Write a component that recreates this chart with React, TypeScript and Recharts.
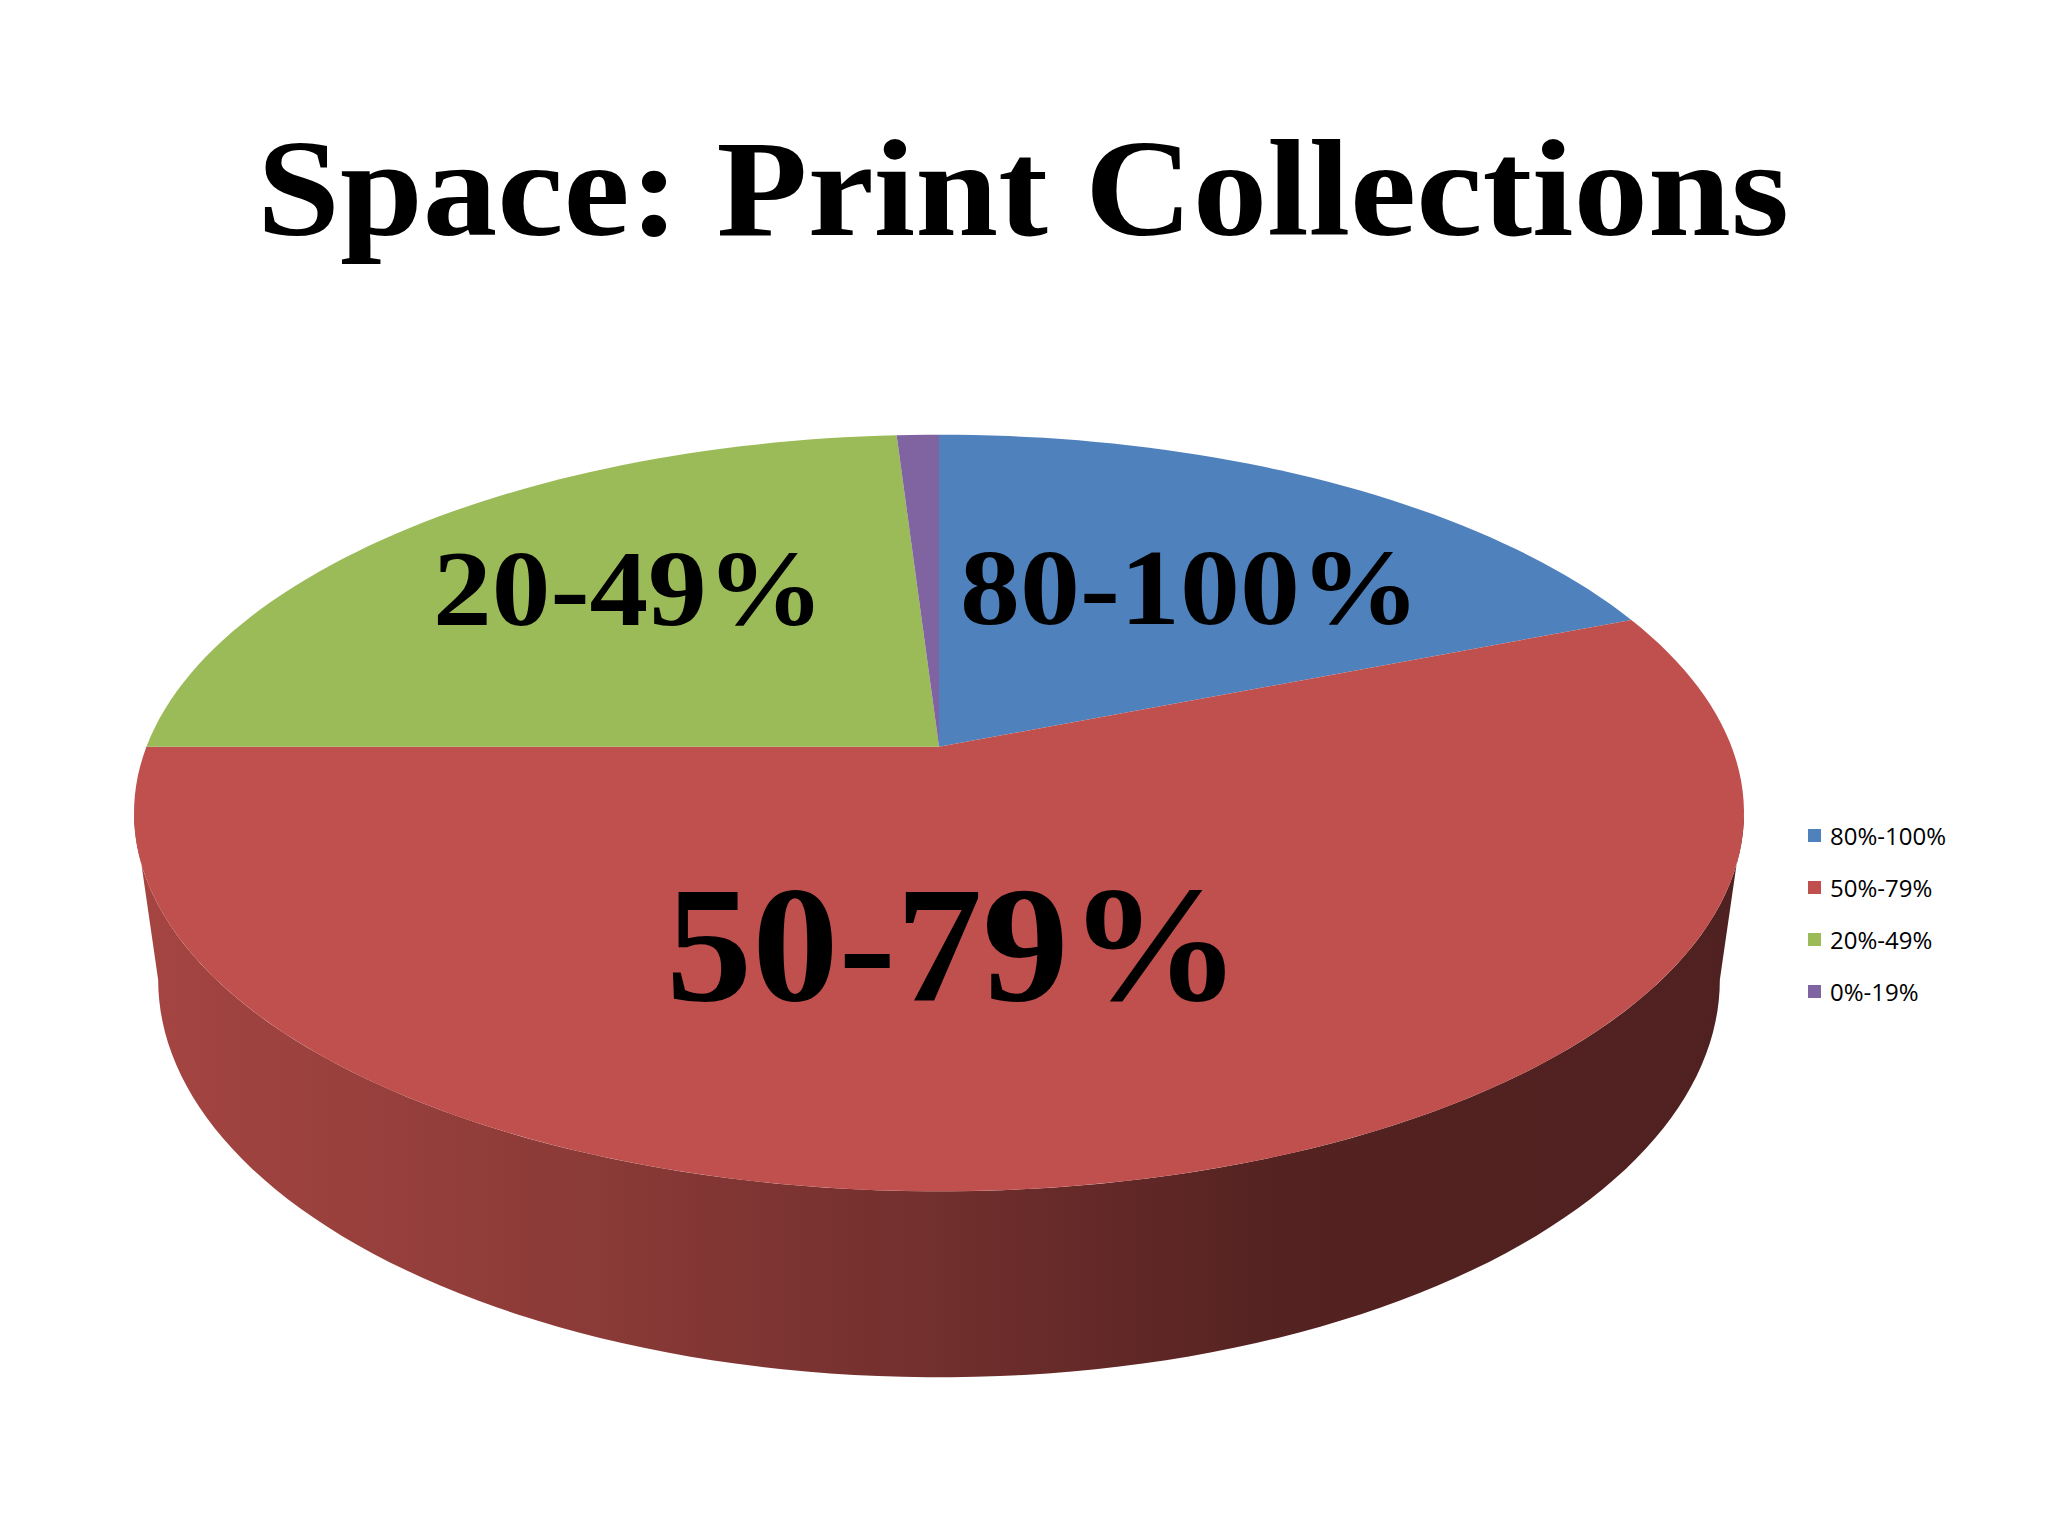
import React from "react";
import { Cell, Legend, Pie, PieChart } from "recharts";

// categories, values and the text drawn on the slices
const categories = ["80%-100%", "50%-79%", "20%-49%", "0%-19%"];
const shares = [19, 56, 24, 1];
const sliceLabels = ["80-100%", "50-79%", "20-49%", ""];
const colors = ["#4f81bd", "#c0504d", "#9bbb59", "#8064a2"];

const data = categories.map((name, i) => ({ name, value: shares[i] }));

// 3d look of the pie
const TILT = 0.47; // ry / rx of the top face
const PERSP = 0.175; // how far the apex sits above the ellipse centre
const DEPTH = 0.207; // drop of the bottom face, in radii
const BOTTOM_RX = 0.97;
const BOTTOM_RY = 0.494;
const SHADE = [
  [0, 0.86],
  [0.29, 0.72],
  [0.5, 0.59],
  [0.72, 0.43],
  [1, 0.41],
];

// slice text: font size, width, radial position and small nudge
const labelStyle = [
  { size: 107, width: 460, f: 0.6, dx: 5, dy: 9 },
  { size: 165, width: 575, f: 0.45, dx: -58, dy: 23 },
  { size: 107, width: 391, f: 0.6, dx: 13, dy: -17 },
  null,
];

const RAD = Math.PI / 180;
// angle where the rim reaches its left / right extreme (side wall silhouette)
const RIM = Math.asin(PERSP) / RAD;

function project(cx: number, cy: number, rx: number, ry: number, deg: number, f = 1) {
  const c = f * Math.cos(deg * RAD);
  const s = f * Math.sin(deg * RAD);
  const w = 1 + PERSP * s;
  const a = rx * Math.sqrt(1 - PERSP * PERSP);
  return [cx + (a * c) / w, cy - (ry * (s + PERSP)) / w];
}

function arc(cx: number, cy: number, rx: number, ry: number, a0: number, a1: number) {
  const n = Math.max(2, Math.ceil(Math.abs(a1 - a0) / 1.5));
  const pts: number[][] = [];
  for (let i = 0; i <= n; i++) pts.push(project(cx, cy, rx, ry, a0 + ((a1 - a0) * i) / n));
  return pts;
}

const toPath = (pts: number[][]) => pts.map((p, i) => `${i ? "L" : "M"}${p[0].toFixed(2)},${p[1].toFixed(2)}`).join(" ");

function shade(hex: string, k: number) {
  const n = parseInt(hex.slice(1), 16);
  const r = Math.round(((n >> 16) & 255) * k);
  const g = Math.round(((n >> 8) & 255) * k);
  const b = Math.round((n & 255) * k);
  return `rgb(${r},${g},${b})`;
}

const renderSlice = (props: any) => {
  const { cx, cy, outerRadius, startAngle, endAngle, midAngle, index } = props;
  const rx = outerRadius;
  const ry = outerRadius * TILT;
  const bcy = cy + outerRadius * DEPTH;
  const brx = outerRadius * BOTTOM_RX;
  const bry = outerRadius * BOTTOM_RY;
  const color = colors[index];

  // side wall: only the front part of the rim is visible
  const lo = Math.min(startAngle, endAngle);
  const hi = Math.max(startAngle, endAngle);
  const bands: string[] = [];
  [-360, 0, 360].forEach((off) => {
    const a = Math.max(lo + off, -180 + RIM);
    const b = Math.min(hi + off, -RIM);
    if (b - a > 0.01) {
      const topEdge = arc(cx, cy, rx, ry, a, b);
      const bottomEdge = arc(cx, bcy, brx, bry, b, a);
      bands.push(toPath([...topEdge, ...bottomEdge]) + " Z");
    }
  });

  const apex = project(cx, cy, rx, ry, 0, 0);
  const face = toPath([apex, ...arc(cx, cy, rx, ry, startAngle, endAngle)]) + " Z";

  const st = labelStyle[index];
  let text = null;
  if (st && sliceLabels[index]) {
    const p = project(cx, cy, rx, ry, midAngle, st.f);
    text = (
      <text
        x={p[0] + st.dx}
        y={p[1] + st.dy + st.size * 0.33}
        textAnchor="middle"
        fontFamily="'Liberation Serif', serif"
        fontWeight="bold"
        fontSize={st.size}
        textLength={st.width}
        lengthAdjust="spacingAndGlyphs"
        fill="#000"
      >
        {sliceLabels[index]}
      </text>
    );
  }

  const gid = `side-${index}`;
  return (
    <g>
      {bands.length > 0 && (
        <defs>
          <linearGradient id={gid} gradientUnits="userSpaceOnUse" x1={cx - rx} x2={cx + rx} y1={0} y2={0}>
            {SHADE.map(([o, k]) => (
              <stop key={o} offset={o} stopColor={shade(color, k)} />
            ))}
          </linearGradient>
        </defs>
      )}
      {bands.map((d, i) => (
        <path key={i} d={d} fill={`url(#${gid})`} stroke="none" />
      ))}
      <path d={face} fill={color} stroke="none" />
      {text}
    </g>
  );
};

const LegendContent = (props: any) => {
  const given = props.payload && props.payload.length ? props.payload : [];
  const items = categories.map((c, i) => {
    const p = given.find((g: any) => g.value === c);
    return { value: c, color: p ? p.color : colors[i] };
  });
  return (
    <div style={{ fontFamily: "'Open Sans', sans-serif", fontSize: 24, color: "#000" }}>
      {items.map((it, i) => (
        <div key={i} style={{ height: 52, display: "flex", alignItems: "center" }}>
          <span style={{ display: "inline-block", width: 13, height: 13, background: it.color, marginRight: 9 }} />
          <span>{it.value}</span>
        </div>
      ))}
    </div>
  );
};

export default function App() {
  return (
    <div style={{ position: "absolute", left: 0, top: 0, width: 2048, height: 1536, background: "#fff" }}>
      <svg width={2048} height={300} style={{ position: "absolute", left: 0, top: 0 }}>
        <text
          x={1023}
          y={235}
          textAnchor="middle"
          fontFamily="'Liberation Serif', serif"
          fontWeight="bold"
          fontSize={137}
          textLength={1532}
          lengthAdjust="spacingAndGlyphs"
        >
          Space: Print Collections
        </text>
      </svg>
      <div style={{ position: "absolute", left: 0, top: 0 }}>
        <PieChart width={2048} height={1536} margin={{ top: 0, right: 0, bottom: 0, left: 0 }}>
          <Pie
            data={data}
            dataKey="value"
            nameKey="name"
            cx={939}
            cy={813}
            outerRadius={805}
            startAngle={90}
            endAngle={-270}
            stroke="none"
            fillOpacity={0}
            label={renderSlice}
            labelLine={false}
            isAnimationActive={false}
          >
            {data.map((d, i) => (
              <Cell key={d.name} fill={colors[i]} />
            ))}
          </Pie>
          <Legend
            layout="vertical"
            align="center"
            verticalAlign="middle"
            content={<LegendContent />}
            wrapperStyle={{ left: 1808, top: 809, width: 220 }}
          />
        </PieChart>
      </div>
    </div>
  );
}
